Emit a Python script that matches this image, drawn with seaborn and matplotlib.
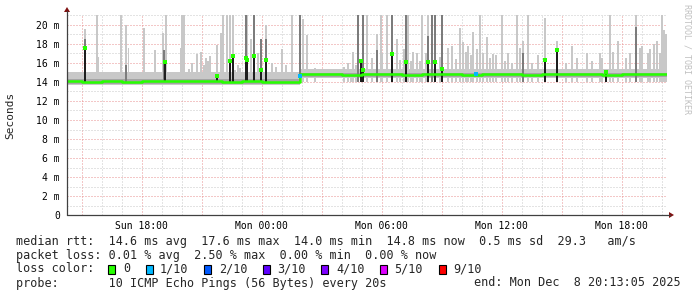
import matplotlib
matplotlib.use("Agg")
import matplotlib.pyplot as plt
import seaborn as sns
import pandas as pd
from matplotlib.patches import Rectangle, Polygon
from matplotlib.lines import Line2D
from matplotlib.ticker import MultipleLocator

# ---------------- data ----------------
x_tick_hours = [18, 24, 30, 36, 42]
x_tick_labels = ["Sun 18:00", "Mon 00:00", "Mon 06:00", "Mon 12:00", "Mon 18:00"]
y_tick_values = [0, 2, 4, 6, 8, 10, 12, 14, 16, 18, 20]
y_tick_labels = ["0", "2 m", "4 m", "6 m", "8 m", "10 m", "12 m", "14 m", "16 m", "18 m", "20 m"]

# median rtt (ms) over time (hours since Sun 00:00)
median_hours = [14.27, 15, 16, 17, 18, 19, 20, 21, 22, 23, 24, 25, 25.9, 27, 28, 29, 30, 31, 32,
                33, 34, 35, 36, 37, 38, 39, 40, 41, 42, 43, 44, 44.27]
median_ms = [14.1, 14.05, 14.1, 14.05, 14.1, 14.1, 14.15, 14.1, 14.05, 14.1, 14.05, 14.05, 14.8, 14.8,
             14.75, 14.8, 14.8, 14.75, 14.8, 14.8, 14.75, 14.8, 14.8, 14.75, 14.8, 14.8, 14.8, 14.75,
             14.8, 14.8, 14.8, 14.8]

# baseline smoke envelopes (segment start hours)
band_hours = [14.27, 25.9, 44.27]
light_lo = [13.65, 14.4, 14.4]
light_hi = [15.05, 15.4, 15.4]
dark_lo = [13.75, 14.5, 14.5]
dark_hi = [14.3, 15.0, 15.0]

# light smoke spikes (max pings)
light_h = [15.785, 15.155, 15.835, 16.985, 17.235, 17.345, 18.12, 18.67, 19.085, 19.205, 19.955,
           20.035, 20.12, 20.37, 20.5, 20.785, 20.955, 21.1, 21.205, 21.3, 21.42, 21.755, 21.97,
           22.085, 22.255, 22.42, 22.555, 22.67, 22.8, 22.92, 23.27, 23.45, 23.62, 23.8, 24.205,
           24.5, 24.7, 25.005, 25.2, 25.505, 26.085, 26.27, 26.67, 28.1, 28.3, 28.45, 28.585,
           28.7, 28.835, 29.255, 29.5, 29.755, 29.97, 30.0, 30.255, 30.505, 30.755, 30.9, 31.1,
           31.335, 31.45, 31.585, 31.755, 31.9, 32.005, 32.2, 32.305, 32.505, 32.67, 32.9,
           33.005, 33.335, 33.505, 33.7, 33.92, 34.085, 34.2, 34.335, 34.45, 34.585, 34.75,
           34.92, 35.05, 35.255, 35.4, 35.585, 35.7, 36.005, 36.15, 36.32, 36.505, 36.755,
           36.92, 37.085, 37.335, 37.5, 37.8, 38.17, 38.755, 39.2, 39.505, 39.755, 40.255,
           40.5, 40.92, 41.0, 41.42, 41.585, 41.835, 42.2, 42.42, 42.705, 42.9, 43.005, 43.3,
           43.42, 43.6, 43.755, 43.9, 44.0, 44.12, 44.2]
light_v = [21.1, 19.6, 16.6, 21.1, 20.0, 17.6, 19.7, 17.4, 19.2, 21.1, 17.6,
           21.1, 21.1, 15.4, 16.0, 16.9, 17.2, 15.8, 16.5, 16.2, 16.7, 17.9, 19.2,
           21.1, 21.1, 21.1, 21.1, 15.3, 15.8, 15.5, 21.1, 18.5, 21.1, 17.0, 20.0,
           16.0, 15.6, 17.5, 15.8, 21.1, 20.6, 18.9, 15.5, 15.6, 16.0, 15.4, 17.2,
           15.8, 21.1, 21.1, 16.5, 19.0, 21.1, 17.0, 21.1, 21.1, 18.5, 16.3, 17.5,
           21.1, 16.2, 17.2, 17.1, 16.2, 21.1, 17.0, 21.1, 21.1, 21.1, 16.6,
           21.1, 17.6, 17.8, 16.4, 19.7, 18.2, 17.2, 17.8, 16.8, 19.3, 17.5,
           21.1, 17.0, 18.7, 16.5, 16.9, 16.8, 21.1, 16.2, 17.0, 16.0, 21.1,
           17.6, 18.3, 21.1, 16.0, 16.8, 20.7, 18.3, 16.0, 17.8, 16.5, 17.0,
           16.2, 17.0, 16.5, 21.1, 17.2, 18.3, 16.5, 17.0, 21.1, 17.6, 17.8, 17.0,
           17.5, 18.0, 18.3, 17.0, 21.1, 19.5, 19.0]

# darker smoke spikes
dark_h = [15.155, 17.235, 19.12, 23.24, 23.62, 23.955, 24.205, 25.9, 28.835, 29.085, 29.755,
          30.505, 31.205, 32.305, 32.505, 32.67, 33.005, 37.085, 42.705]
dark_v = [18.5, 15.8, 17.4, 21.1, 21.1, 18.5, 18.5, 21.1, 21.1, 21.1, 17.4,
          21.1, 21.1, 18.8, 21.1, 21.1, 21.1, 17.0, 19.8]

# median spikes (black with green top)
spike_h = [15.155, 19.155, 21.785, 22.42, 22.555, 23.205, 23.285, 23.62, 23.955, 24.205,
           28.97, 29.085, 30.505, 31.205, 32.305, 32.67, 33.005, 38.17, 38.755, 41.205]
spike_v = [17.6, 16.1, 14.6, 16.2, 16.7, 16.5, 16.3, 16.7, 15.3, 16.3,
           16.2, 15.3, 16.9, 16.1, 16.1, 16.1, 15.4, 16.3, 17.4, 15.1]

# 1/10 loss points
loss_h = [25.92, 34.705]
loss_v = [14.6, 14.8]

loss_labels = ["0", "1/10", "2/10", "3/10", "4/10", "5/10", "9/10"]
loss_colors = ["#26ff00", "#00b8ff", "#0059ff", "#5e00ff", "#7e00ff", "#dd00ff", "#ff0000"]

legend_line1 = "median rtt:  14.6 ms avg  17.6 ms max  14.0 ms min  14.8 ms now  0.5 ms sd  29.3   am/s"
legend_line2 = "packet loss: 0.01 % avg  2.50 % max  0.00 % min  0.00 % now"
legend_line3 = "loss color:"
legend_line4 = "probe:       10 ICMP Echo Pings (56 Bytes) every 20s"
legend_end = "end: Mon Dec  8 20:13:05 2025"
side_text = "RRDTOOL / TOBI OETIKER"

# ---------------- figure ----------------
sns.set_style("white")
plt.rcParams["font.family"] = ["DejaVu Sans Mono", "DejaVu Sans"]

W, H = 697, 297
fig = plt.figure(figsize=(W / 100, H / 100), dpi=100, facecolor="white")
x0, x1 = 67, 667
ybot, ytop = 215, 215 - 21.1 * 9.5
ax = fig.add_axes([x0 / W, 1 - ybot / H, (x1 - x0) / W, (ybot - ytop) / H])
ax.set_facecolor("white")
ax.set_xlim(14.27, 44.27)
ax.set_ylim(0, 21.1)

LIGHT = "#c8c8c8"
DARK = "#7c7c7c"
BLACK = "#1e1e1e"
GREEN = "#26ff00"

# light spikes
ax.bar(light_h, [v - 14.0 for v in light_v], width=0.1, bottom=14.0,
       color=LIGHT, linewidth=0, zorder=2)
# baseline bands
ax.fill_between(band_hours, light_lo, light_hi, step="post", color=LIGHT, linewidth=0, zorder=2)
ax.fill_between(band_hours, dark_lo, dark_hi, step="post", color="#a4a4a4", linewidth=0, zorder=3)
# dark spikes
ax.bar(dark_h, [v - 14.0 for v in dark_v], width=0.1, bottom=14.0,
       color=DARK, linewidth=0, zorder=3)
# black median spikes
ax.bar(spike_h, [v - 14.0 for v in spike_v], width=0.1, bottom=14.0,
       color=BLACK, linewidth=0, zorder=4)

med_df = pd.DataFrame({"hour": median_hours, "ms": median_ms})
sns.lineplot(data=med_df, x="hour", y="ms", drawstyle="steps-post", color=GREEN,
             linewidth=1.8, ax=ax, zorder=5)
sp_df = pd.DataFrame({"hour": spike_h, "ms": spike_v})
sns.scatterplot(data=sp_df, x="hour", y="ms", color=GREEN, marker="s", s=5,
                linewidth=0, ax=ax, zorder=6)
ls_df = pd.DataFrame({"hour": loss_h, "ms": loss_v})
sns.scatterplot(data=ls_df, x="hour", y="ms", color=loss_colors[1], marker="s", s=6,
                linewidth=0, ax=ax, zorder=6)

# grid
ax.xaxis.set_minor_locator(MultipleLocator(1))
ax.yaxis.set_minor_locator(MultipleLocator(1))
ax.set_axisbelow(True)

major_x = [h for h in range(15, 45, 3)]
ax.set_xticks(major_x)
ax.set_xticklabels([x_tick_labels[x_tick_hours.index(h)] if h in x_tick_hours else "" for h in major_x])
ax.set_yticks(y_tick_values)
ax.set_yticklabels(y_tick_labels)
ax.grid(which="major", color="#e89090", linestyle=(0, (1, 2)), linewidth=0.72)
ax.grid(which="minor", color="#c8c8c8", linestyle=(0, (1, 2)), linewidth=0.72)
ax.tick_params(axis="both", which="major", length=1.5, width=0.7, color="#505050",
               labelsize=7, labelcolor="#000000")
ax.tick_params(axis="y", pad=3.6)
ax.tick_params(axis="x", pad=2.5)
ax.tick_params(which="minor", length=0)
ax.set_xlabel("")
ax.set_ylabel("")
for s in ax.spines.values():
    s.set_visible(False)


def fx(px):
    return px / W


def fy(py):
    return 1 - py / H


# axes lines and arrows
fig.add_artist(Line2D([fx(67), fx(67)], [fy(215), fy(11)], color="#404040", lw=0.9))
fig.add_artist(Line2D([fx(67), fx(670)], [fy(215), fy(215)], color="#404040", lw=0.9))
fig.add_artist(Polygon([(fx(64), fy(12)), (fx(70), fy(12)), (fx(67), fy(7))],
                       closed=True, color="#7f1010", lw=0))
fig.add_artist(Polygon([(fx(669), fy(212)), (fx(669), fy(218)), (fx(674), fy(215))],
                       closed=True, color="#7f1010", lw=0))

fig.text(fx(10.5), fy(115), "Seconds", rotation=90, ha="center", va="center", fontsize=8)
fig.text(fx(687), fy(4), side_text, rotation=270, ha="center", va="top", fontsize=6,
         color="#c0c0c0")

# legend rows
fig.text(fx(16), fy(244.5), legend_line1, fontsize=8.5, va="baseline", ha="left")
fig.text(fx(16), fy(258.5), legend_line2, fontsize=8.5, va="baseline", ha="left")
fig.text(fx(16), fy(272.5), legend_line3, fontsize=8.5, va="baseline", ha="left")
fig.text(fx(16), fy(286.5), legend_line4, fontsize=8.5, va="baseline", ha="left")
fig.text(fx(680.5), fy(286.5), legend_end, fontsize=8.5, va="baseline", ha="right")

cw = 7.1
xs = 108.3
for lab, col in zip(loss_labels, loss_colors):
    fig.add_artist(Rectangle((fx(xs), fy(273.5)), 7 / W, 9 / H, facecolor=col,
                             edgecolor="black", lw=0.8))
    fig.text(fx(xs + 14.5), fy(272.5), lab, fontsize=8.5, va="baseline", ha="left")
    xs = xs + 14.5 + len(lab) * cw + 15.7

fig.savefig("out.png", dpi=100, facecolor="white")
